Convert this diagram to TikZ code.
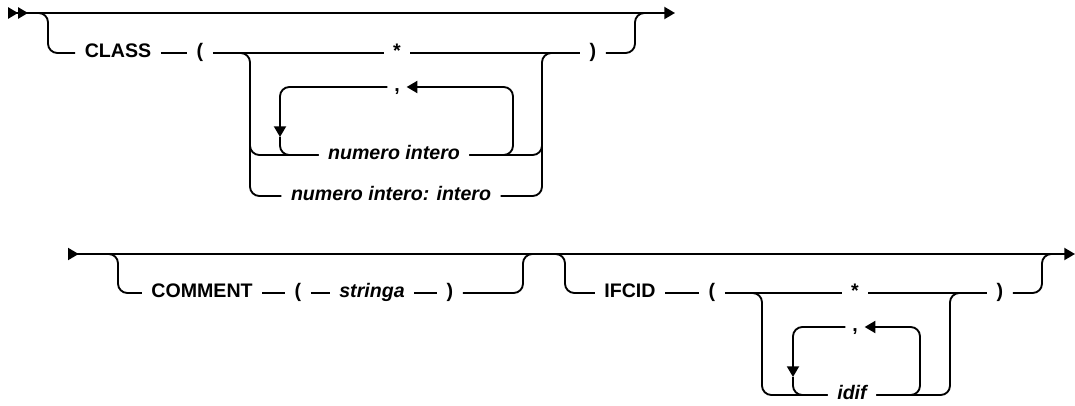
\documentclass[tikz,border=0pt]{standalone}
\usepackage{fontspec}
\setmainfont{Liberation Sans}
\usetikzlibrary{arrows.meta}
\tikzset{
  rail/.style={line width=1.4pt,rounded corners=7pt},
  kw/.style={inner xsep=7pt,inner ysep=0pt,text height=0.72em,text depth=0pt,font=\fontsize{14.7}{18}\selectfont\bfseries},
  varbl/.style={kw,font=\fontsize{14.7}{18}\selectfont\bfseries\itshape},
  sepr/.style={kw,inner xsep=5pt},
  starttip/.style={{Triangle[reversed,length=7.5pt,width=8.5pt]Triangle[reversed,length=7.5pt,width=8.5pt]}->},
  conttip/.style={{Triangle[reversed,length=8pt,width=9pt]}->}
}

\begin{document}
\begin{tikzpicture}[x=0.75pt,y=-0.75pt,>={Triangle[length=8pt,width=9pt]}]
\useasboundingbox (0,0) rectangle (1075,406);
\coordinate (s1) at (8,13);
\coordinate (e1) at (675,13);
\coordinate (v1a) at (38,13);
\coordinate (v1) at (48,13);
\coordinate (v1o) at (635,13);
\coordinate (v1oa) at (645,13);
\coordinate (v1la) at (240,53);
\coordinate (v1l) at (250,53);
\coordinate (v1lm) at (250,120);
\coordinate (v1r) at (542,53);
\coordinate (v1ra) at (552,53);
\coordinate (v1rm) at (542,120);
\coordinate (lp1l) at (280,137);
\coordinate (lp1r) at (513,87);
\node[kw] (class) at (118,53) {CLASS};
\node[kw] (lp1) at (200,53) {(};
\node[kw] (star1) at (397,53) {*};
\node[kw] (rp1) at (593,53) {)};
\node[sepr] (comma1) at (397,87) {,};
\node[varbl] (numint) at (394,155) {numero intero};
\node[varbl] (numintint) at (391,196) {numero intero: intero};
\draw[rail,starttip] (s1) -- (e1);
\draw[rail] (v1a) -- (v1) |- (class.west);
\draw[rail] (class.east) -- (lp1.west) (lp1.east) -- (star1.west) (star1.east) -- (rp1.west);
\draw[rail] (rp1.east) -| (v1o) -- (v1oa);
\draw[rail] (v1la) -- (v1l) |- (numintint.west);
\draw[rail] (v1lm) |- (numint.west);
\draw[rail] (numintint.east) -| (v1r) -- (v1ra);
\draw[rail] (numint.east) -| (v1rm);
\draw[rail,->] (comma1.west) -| (lp1l);
\draw[rail] (lp1l) |- (numint.west);
\draw[rail,->] (numint.east) -| (lp1r) -- (comma1.east);

\coordinate (s2) at (68,254);
\coordinate (e2) at (1075,254);
\coordinate (v2a) at (108,254);
\coordinate (v2) at (118,254);
\coordinate (v2o) at (523,254);
\coordinate (v2oa) at (533,254);
\node[kw] (comment) at (202,293) {COMMENT};
\node[kw] (lp2) at (298,293) {(};
\node[varbl] (stringa) at (372,293) {stringa};
\node[kw] (rp2) at (450,293) {)};
\draw[rail,conttip] (s2) -- (e2);
\draw[rail] (v2a) -- (v2) |- (comment.west);
\draw[rail] (comment.east) -- (lp2.west) (lp2.east) -- (stringa.west) (stringa.east) -- (rp2.west);
\draw[rail] (rp2.east) -| (v2o) -- (v2oa);

\coordinate (v3a) at (555,254);
\coordinate (v3) at (565,254);
\coordinate (v3o) at (1042,254);
\coordinate (v3oa) at (1052,254);
\coordinate (v3la) at (752,293);
\coordinate (v3l) at (762,293);
\coordinate (v3r) at (950,293);
\coordinate (v3ra) at (960,293);
\coordinate (lp3l) at (793,377);
\coordinate (lp3r) at (920,327);
\node[kw] (ifcid) at (630,293) {IFCID};
\node[kw] (lp3) at (712,293) {(};
\node[kw] (star3) at (855,293) {*};
\node[kw] (rp3) at (1000,293) {)};
\node[sepr] (comma3) at (855,327) {,};
\node[varbl] (idif) at (852,395) {idif};
\draw[rail] (v3a) -- (v3) |- (ifcid.west);
\draw[rail] (ifcid.east) -- (lp3.west) (lp3.east) -- (star3.west) (star3.east) -- (rp3.west);
\draw[rail] (rp3.east) -| (v3o) -- (v3oa);
\draw[rail] (v3la) -- (v3l) |- (idif.west);
\draw[rail] (idif.east) -| (v3r) -- (v3ra);
\draw[rail,->] (comma3.west) -| (lp3l);
\draw[rail] (lp3l) |- (idif.west);
\draw[rail,->] (idif.east) -| (lp3r) -- (comma3.east);
\end{tikzpicture}
\end{document}
